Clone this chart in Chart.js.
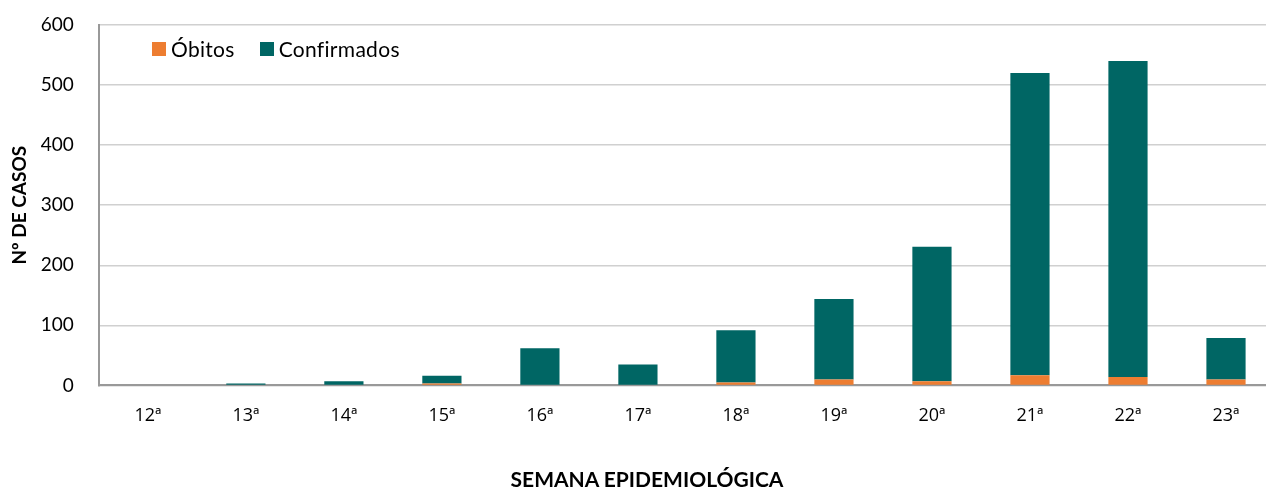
<!DOCTYPE html>
<html>
<head>
<meta charset="utf-8">
<script src="https://cdn.jsdelivr.net/npm/chart.js@4.4.1/dist/chart.umd.min.js"></script>
<style>
  html, body { margin: 0; padding: 0; background: #fff; overflow: hidden; }
  #wrap { width: 1280px; height: 488px; position: relative; overflow: hidden; }
  .legend { position: absolute; top: 36px; left: 152px; font: 21px Lato, "Open Sans", sans-serif; color: #000; display: flex; align-items: center; }
  .legend span.box { display: inline-block; width: 14px; height: 14px; margin-right: 5px; }
  .legend span.item { display: inline-flex; align-items: center; margin-right: 25px; letter-spacing: 0.3px; }
  .xtitle { position: absolute; left: 647px; top: 468px; transform: translateX(-50%); font: bold 21px/21px Lato, "Open Sans", sans-serif; color: #000; white-space: nowrap; }
</style>
</head>
<body>
<div id="wrap">
  <canvas id="chart"></canvas>
  <div class="legend" id="legend"></div>
  <div class="xtitle">SEMANA EPIDEMIOLÓGICA</div>
</div>
<script>
const semanas = ['12ª', '13ª', '14ª', '15ª', '16ª', '17ª', '18ª', '19ª', '20ª', '21ª', '22ª', '23ª'];
const obitos = [0, 0, 0, 3, 0, 0, 5, 10, 7, 17, 14, 10];
const confirmados = [0, 3, 7, 13, 62, 35, 87, 134, 224, 503, 526, 69];
const yTicks = [0, 100, 200, 300, 400, 500, 600];

const FONT = 'Lato, "Open Sans", sans-serif';
const colors = { obitos: '#ed7d31', confirmados: '#006664' };

const chart = new Chart(document.getElementById('chart'), {
  type: 'bar',
  data: {
    labels: semanas,
    datasets: [
      { label: 'Óbitos', data: obitos, backgroundColor: colors.obitos, borderWidth: 0 },
      { label: 'Confirmados', data: confirmados, backgroundColor: colors.confirmados, borderWidth: 0 }
    ]
  },
  options: {
    responsive: true,
    maintainAspectRatio: false,
    animation: false,
    layout: { padding: { top: 25, right: 5, left: 8, bottom: 49 } },
    datasets: { bar: { barPercentage: 0.4, categoryPercentage: 1 } },
    plugins: {
      tooltip: { enabled: false },
      legend: { display: false }
    },
    scales: {
      x: {
        stacked: true,
        grid: { display: false },
        border: { color: '#999', width: 2 },
        ticks: { font: { family: '"Open Sans", Lato, sans-serif', size: 18 }, color: '#000', padding: 12 }
      },
      y: {
        stacked: true,
        min: 0,
        max: 600,
        afterBuildTicks(axis) { axis.ticks = yTicks.map((v) => ({ value: v })); },
        afterFit(axis) { axis.paddingTop = 0; },
        grid: { color: '#d0d0d0', lineWidth: 1.5, drawTicks: false },
        border: { color: '#999', width: 2 },
        ticks: { font: { family: FONT, size: 19 }, color: '#000', padding: 25 },
        title: {
          display: true,
          text: 'Nº DE CASOS',
          font: { family: FONT, size: 19, weight: 'bold' },
          color: '#000',
          padding: { top: 0, bottom: -15 }
        }
      }
    }
  }
});

const legend = document.getElementById('legend');
chart.data.datasets.forEach((ds) => {
  const item = document.createElement('span');
  item.className = 'item';
  const box = document.createElement('span');
  box.className = 'box';
  box.style.background = ds.backgroundColor;
  item.appendChild(box);
  item.appendChild(document.createTextNode(ds.label));
  legend.appendChild(item);
});
</script>
</body>
</html>
